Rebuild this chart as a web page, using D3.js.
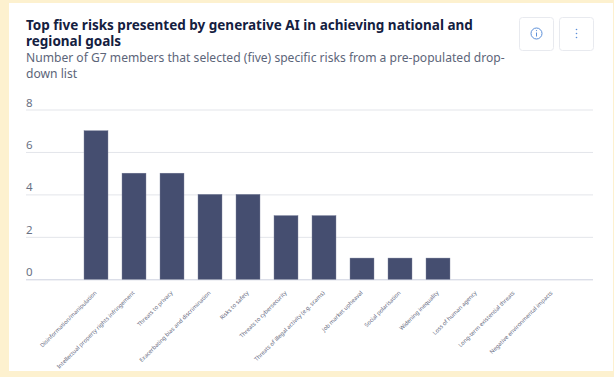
<!DOCTYPE html>
<html><head><meta charset="utf-8">
<script src="https://cdn.jsdelivr.net/npm/d3@7"></script>
<style>html,body{margin:0;padding:0;background:#fdf1cf;overflow:hidden}svg{display:block}</style>
</head><body><svg id="c" width="614" height="377"></svg>
<script>
const categories = ["Disinformation/manipulation","Intellectual property rights infringement","Threats to privacy","Exacerbating bias and discrimination","Risks to safety","Threats to cybersecurity","Threats of illegal activity (e.g. scams)","Job market upheaval","Social polarisation","Widening inequality","Loss of human agency","Long-term existential threats","Negative environmental impacts"];
const values = [7,5,5,4,4,3,3,1,1,1,0,0,0];
const yTicks = [0,2,4,6,8];
const titleLines = ["Top five risks presented by generative AI in achieving national and","regional goals"];
const subtitleLines = ["Number of G7 members that selected (five) specific risks from a pre-populated drop-","down list"];

const svg = d3.select("#c");
const font = "'Noto Sans', sans-serif";
svg.append("rect").attr("x",9).attr("y",3).attr("width",604).attr("height",368).attr("fill","#fff");

const x = d3.scaleBand().domain(categories).range([77,571]).paddingInner(0.37).paddingOuter(0.185);
const y = d3.scaleLinear().domain([0,8]).range([279.3,109.5]);

svg.append("g").selectAll("text").data(titleLines).join("text")
  .attr("x",26).attr("y",(d,i)=>30+i*16.3).text(d=>d)
  .attr("font-family",font).attr("font-weight",700).attr("font-size",13.5).attr("fill","#14203f");
svg.append("g").selectAll("text").data(subtitleLines).join("text")
  .attr("x",26).attr("y",(d,i)=>62+i*16.3).text(d=>d)
  .attr("font-family",font).attr("font-size",12.1).attr("fill","#5c6579");

const yAxis = d3.axisLeft(y).tickValues(yTicks).tickSize(0).tickPadding(0);
const gy = svg.append("g").attr("transform","translate(26,0)").call(yAxis);
gy.select(".domain").remove();
gy.selectAll("line").attr("x1",0).attr("x2",567).attr("stroke",(d)=>d===0?"#ccd1de":"#e3e5ea").attr("stroke-width",1);
gy.selectAll("text").attr("x",0).attr("y",0).attr("dy",-3.5).attr("text-anchor","start")
  .attr("font-family",font).attr("font-size",11.5).attr("fill","#697184");

svg.append("g").selectAll("rect").data(categories.map((c,i)=>({c,v:values[i]}))).join("rect")
  .attr("x",d=>x(d.c)).attr("width",x.bandwidth())
  .attr("y",d=>y(d.v)).attr("height",d=>y(0)-y(d.v))
  .attr("fill","#454e70").attr("stroke","#6b7390").attr("stroke-width",0.4);

const xAxis = d3.axisBottom(x).tickSize(0).tickPadding(0);
const gx = svg.append("g").attr("transform","translate(0,279.3)").call(xAxis);
gx.select(".domain").remove();
gx.selectAll("text")
  .attr("text-anchor","end").attr("x",0).attr("y",0).attr("dy",0)
  .attr("transform",d=>`translate(1,14) rotate(-45)`)
  .attr("font-family",font).attr("font-size",5.65).attr("fill","#5f677d");

// toolbar buttons
const btn = svg.append("g");
[[519.5,17.5],[559.5,17.5]].forEach(p=>btn.append("rect").attr("x",p[0]).attr("y",p[1]).attr("width",34).attr("height",33).attr("rx",3).attr("fill","#fff").attr("stroke","#e8eaef"));
btn.append("circle").attr("cx",536.5).attr("cy",33.5).attr("r",5.5).attr("fill","none").attr("stroke","#5b8fd9").attr("stroke-width",1);
btn.append("line").attr("x1",536.5).attr("x2",536.5).attr("y1",32.5).attr("y2",36.5).attr("stroke","#5b8fd9");
btn.append("circle").attr("cx",536.5).attr("cy",30.6).attr("r",0.6).attr("fill","#5b8fd9");
[29.5,33.5,37.5].forEach(cy=>btn.append("circle").attr("cx",576.5).attr("cy",cy).attr("r",0.8).attr("fill","#5b8fd9"));
</script></body></html>
